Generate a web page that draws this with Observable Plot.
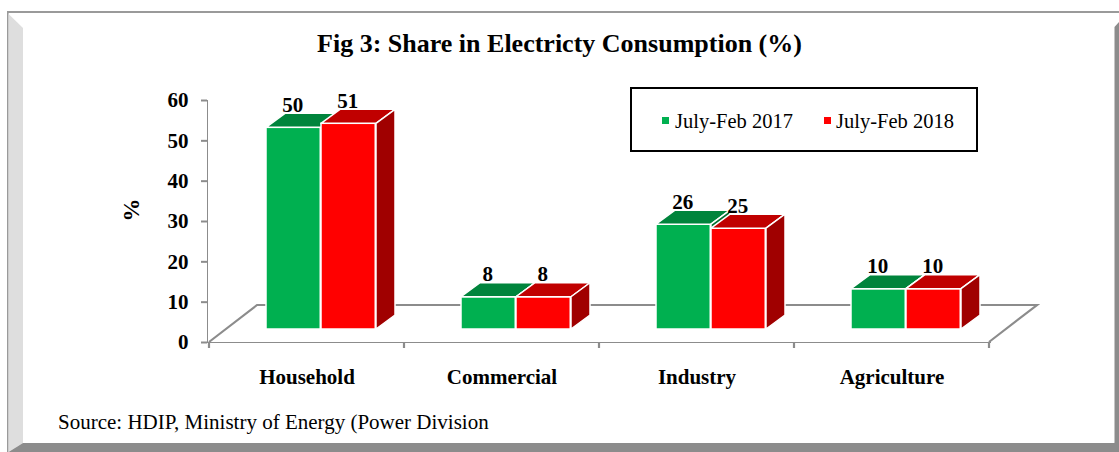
<!DOCTYPE html>
<html>
<head>
<meta charset="utf-8">
<script src="https://cdn.jsdelivr.net/npm/d3@7"></script>
<script src="https://cdn.jsdelivr.net/npm/@observablehq/plot@0.6"></script>
<style>
  html, body { margin: 0; padding: 0; background: #ffffff; }
  #wrap { position: relative; width: 1119px; height: 452px; overflow: hidden; background: #ffffff;
          font-family: "Liberation Serif", "Times New Roman", Times, serif; color: #000; }
  #frame { position: absolute; left: 0; top: 0; }
  #chart { position: absolute; left: 0; top: 0; }
  #chart svg text { fill: #000; }
  #chart svg [aria-label^="y-axis"] text, #chart svg [aria-label^="x-axis"] text { font-weight: bold; }
  #chart svg [aria-label^="y-axis"] line, #chart svg [aria-label^="y-axis"] path,
  #chart svg [aria-label^="x-axis"] line, #chart svg [aria-label^="x-axis"] path { stroke-width: 2px; }
  .title { position: absolute; left: 0; width: 1119px; top: 31px; text-align: center;
           font-size: 26px; line-height: 26px; font-weight: bold; white-space: nowrap; }
  .legend { position: absolute; left: 630px; top: 87px; width: 344px; height: 61px;
            border: 2px solid #000; background: #fff; }
  .legend .sw { position: absolute; width: 7px; height: 7px; }
  .legend .lab { position: absolute; font-size: 20.5px; line-height: 20px; white-space: nowrap; }
  .source { position: absolute; left: 58px; top: 412px; font-size: 21px; line-height: 21px; white-space: nowrap; }
</style>
</head>
<body>
<div id="wrap">
  <svg id="frame" width="1119" height="452">
    <rect x="7" y="11" width="1112" height="2" fill="#9a9a9a"></rect>
    <rect x="7" y="11" width="1.6" height="441" fill="#9a9a9a"></rect>
    <polygon points="8.6,14 23,28 23,443 8.6,452" fill="#dedede"></polygon>
    <polygon points="8.6,452 23,443 1114.5,443 1119,439 1119,452" fill="#8c8c8c"></polygon>
    <polygon points="1114.5,27 1119,22 1119,452 1114.5,443" fill="#8c8c8c"></polygon>
  </svg>
  <div id="chart"></div>
</div>
<script>
// ---- data ----
const categories = ["Household", "Commercial", "Industry", "Agriculture"];
const seriesNames = ["July-Feb 2017", "July-Feb 2018"];
const values2017 = [50, 8, 26, 10];
const values2018 = [51, 8, 25, 10];
const yTicks = [0, 10, 20, 30, 40, 50, 60];
const chartTitle = "Fig 3: Share in Electricty Consumption (%)";
const yLabel = "%";
const sourceText = "Source: HDIP, Ministry of Energy (Power Division";

// ---- colours ----
const colors = {
  "July-Feb 2017": {front: "#00b050", top: "#00843c", side: "#006f30"},
  "July-Feb 2018": {front: "#ff0000", top: "#c00000", side: "#a00000"}
};

// ---- layout (pixels) ----
const W = 1119, H = 452;
const ML = 207, MR = 129, MT = 100, MB = 110;
const BW = (W - ML - MR) / categories.length;   // band width
const BAR_W = 55;            // width of one bar front face
const GROUP_LEFT = 40;       // offset of first bar inside its band
const MID_DX = 17, MID_DY = -13;   // bars stand half way into the floor
const BAR_DX = 19, BAR_DY = -14;   // depth of a bar
const FLOOR_DX = 48, FLOOR_DY = -37; // depth of the floor

const rows = (vals, s) => categories.map((c, i) => ({category: c, series: s, value: vals[i]}));
const rows2017 = rows(values2017, seriesNames[0]);
const rows2018 = rows(values2018, seriesNames[1]);

const insetFor = (si) => ({
  insetLeft: GROUP_LEFT + si * BAR_W,
  insetRight: BW - GROUP_LEFT - (si + 1) * BAR_W
});

// floor (back edge + side diagonals) and category boundary ticks
function floorMark(index, scales) {
  const x = scales.x, y = scales.y;
  const bw = x.bandwidth ? x.bandwidth() : BW;
  const x0 = x(categories[0]);
  const x1 = x(categories[categories.length - 1]) + bw;
  const y0 = y(0);
  const g = d3.create("svg:g").attr("aria-label", "floor").attr("fill", "none")
    .attr("stroke", "#8c8c8c").attr("stroke-width", 2.2);
  g.append("path").attr("d",
    `M${x0},${y0}L${x0 + FLOOR_DX},${y0 + FLOOR_DY}L${x1 + FLOOR_DX},${y0 + FLOOR_DY}L${x1},${y0}`);
  const bounds = categories.map(c => x(c)).concat([x1]);
  for (const bx of bounds) g.append("path").attr("d", `M${bx},${y0}L${bx},${y0 + 6}`);
  return g.node();
}

// top and side faces of the 3-D bars
function facesMark(data, si) {
  const col = colors[seriesNames[si]];
  return (index, scales) => {
    const x = scales.x, y = scales.y;
    const g = d3.create("svg:g").attr("aria-label", "bar faces " + seriesNames[si])
      .attr("stroke", "#ffffff").attr("stroke-width", 1.5).attr("stroke-linejoin", "round");
    for (const d of data) {
      const xa = x(d.category) + GROUP_LEFT + si * BAR_W + MID_DX;
      const xb = xa + BAR_W;
      const yt = y(d.value) + MID_DY;
      const yb = y(0) + MID_DY;
      g.append("path").attr("fill", col.top).attr("d",
        `M${xa},${yt}L${xb},${yt}L${xb + BAR_DX},${yt + BAR_DY}L${xa + BAR_DX},${yt + BAR_DY}Z`);
      g.append("path").attr("fill", col.side).attr("d",
        `M${xb},${yt}L${xb + BAR_DX},${yt + BAR_DY}L${xb + BAR_DX},${yb + BAR_DY}L${xb},${yb}Z`);
    }
    return g.node();
  };
}

function frontBars(data, si) {
  return Plot.barY(data, {
    x: "category", y: "value",
    fill: colors[seriesNames[si]].front, stroke: "#ffffff", strokeWidth: 1.5,
    ...insetFor(si), dx: MID_DX, dy: MID_DY
  });
}

function valueLabels(data, si) {
  return Plot.text(data, {
    x: "category", y: "value", text: d => String(d.value),
    dx: GROUP_LEFT + si * BAR_W + BAR_W / 2 + MID_DX - BW / 2 - 1,
    dy: MID_DY + BAR_DY - 2,
    lineAnchor: "bottom", fontWeight: "bold", fontSize: 21, fill: "#000"
  });
}

const chart = Plot.plot({
  width: W, height: H,
  marginLeft: ML, marginRight: MR, marginTop: MT, marginBottom: MB,
  style: {background: "transparent", color: "#8c8c8c", overflow: "visible",
          fontFamily: "'Liberation Serif', 'Times New Roman', Times, serif", fontSize: "21px"},
  x: {type: "band", domain: categories, padding: 0, tickSize: 0, tickPadding: 27, label: null, line: true},
  y: {domain: [0, 60], ticks: yTicks, tickSize: 6, tickPadding: 13, label: null, line: true},
  marks: [
    floorMark,
    frontBars(rows2017, 0),
    facesMark(rows2017, 0),
    frontBars(rows2018, 1),
    facesMark(rows2018, 1),
    valueLabels(rows2017, 0),
    valueLabels(rows2018, 1),
    Plot.text([yLabel], {frameAnchor: "left", text: d => d, rotate: -90, dx: -76,
                         fontWeight: "bold", fontSize: 23, fill: "#000"})
  ]
});
document.getElementById("chart").appendChild(chart);

// ---- title, legend, source ----
const wrap = document.getElementById("wrap");
const t = document.createElement("div");
t.className = "title"; t.textContent = chartTitle; wrap.appendChild(t);

const lg = document.createElement("div");
lg.className = "legend";
const legendPos = [{sw: 30, lab: 43}, {sw: 192, lab: 204}];
seriesNames.forEach((s, i) => {
  const sw = document.createElement("div");
  sw.className = "sw";
  sw.style.left = legendPos[i].sw + "px"; sw.style.top = "28px";
  sw.style.background = colors[s].front;
  const lab = document.createElement("div");
  lab.className = "lab"; lab.textContent = s;
  lab.style.left = legendPos[i].lab + "px"; lab.style.top = "22px";
  lg.appendChild(sw); lg.appendChild(lab);
});
wrap.appendChild(lg);

const src = document.createElement("div");
src.className = "source"; src.textContent = sourceText; wrap.appendChild(src);
</script>
</body>
</html>
